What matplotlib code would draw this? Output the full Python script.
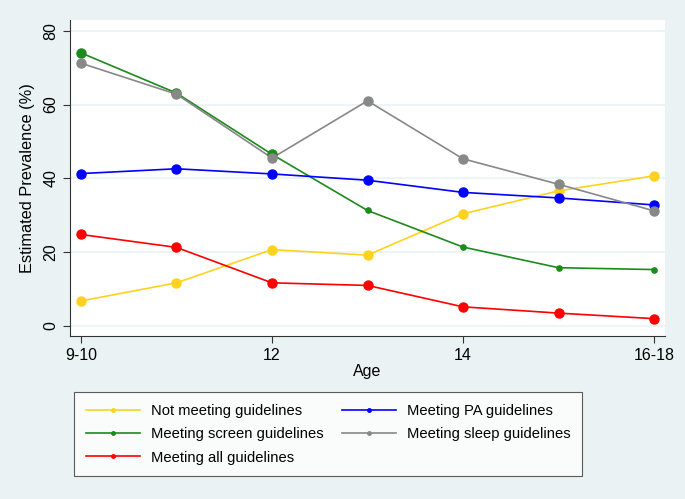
import numpy as np
import matplotlib
matplotlib.use("Agg")
import matplotlib.pyplot as plt

# data
ages = ["9-10", "11", "12", "13", "14", "15", "16-18"]
tick_labels = ["9-10", "12", "14", "16-18"]
tick_idx = [0, 2, 4, 6]

not_meeting = [6.8, 11.7, 20.7, 19.2, 30.4, 36.6, 40.7]
meeting_screen = [74.0, 63.1, 46.5, 31.3, 21.4, 15.8, 15.3]
meeting_all = [24.8, 21.3, 11.7, 11.0, 5.2, 3.5, 2.0]
meeting_pa = [41.3, 42.6, 41.2, 39.5, 36.2, 34.7, 32.8]
meeting_sleep = [71.2, 62.8, 45.5, 61.0, 45.3, 38.4, 31.2]

bg = "#eaf2f3"
plt.rcParams["font.family"] = ["Liberation Sans", "DejaVu Sans"]

fig = plt.figure(figsize=(6.85, 4.99), dpi=100, facecolor=bg)
ax = fig.add_axes([70 / 685, 1 - 336 / 499, 595 / 685, 316 / 499])
ax.set_facecolor("white")

x = np.arange(len(ages))
series = [
    ("Not meeting guidelines", not_meeting, "#ffd21e"),
    ("Meeting screen guidelines", meeting_screen, "#1c8a1c"),
    ("Meeting all guidelines", meeting_all, "#ff0000"),
    ("Meeting PA guidelines", meeting_pa, "#0000ff"),
    ("Meeting sleep guidelines", meeting_sleep, "#888888"),
]

handles = []
for name, vals, col in series:
    ax.plot(x, vals, color=col, lw=1.2, zorder=3)
    if name == "Meeting screen guidelines":
        # stata drew this one with small markers after age 12
        ax.plot(x[:3], vals[:3], "o", color=col, ms=6.5, zorder=4)
        ax.plot(x[3:], vals[3:], "o", color=col, ms=3.8, zorder=4)
    else:
        ax.plot(x, vals, "o", color=col, ms=6.5, zorder=4)
    h, = ax.plot([], [], color=col, lw=1.2, marker="o", ms=2.5, label=name)
    handles.append(h)

ax.set_xlim(-0.115, 6.115)
ax.set_ylim(-2.7, 82.9)
ax.set_yticks([0, 20, 40, 60, 80])
ax.set_xticks(tick_idx)
ax.set_xticklabels(tick_labels)
ax.grid(axis="y", color=bg, lw=1.2, zorder=0)
ax.set_axisbelow(True)

for s in ["top", "right"]:
    ax.spines[s].set_visible(False)
for s in ["left", "bottom"]:
    ax.spines[s].set_color("#333333")
    ax.spines[s].set_linewidth(0.8)

ax.tick_params(axis="both", labelsize=11.5, direction="out", length=5, color="#333333")
for lab in ax.get_yticklabels():
    lab.set_rotation(90)
    lab.set_va("center")

ax.set_xlabel("Age", fontsize=11.5, labelpad=1)
ax.set_ylabel("Estimated Prevalence (%)", fontsize=11.8, labelpad=6)

leg = fig.legend(handles=handles, ncol=2, loc="upper left",
                 bbox_to_anchor=(74 / 685, 1 - 472 / 499, 508 / 685, 80 / 499),
                 mode="expand", fontsize=10.6, frameon=True, fancybox=False,
                 edgecolor="#333333", handlelength=3.7, handletextpad=0.7,
                 columnspacing=2.0, labelspacing=0.64, borderpad=0.8,
                 borderaxespad=0)
leg.get_frame().set_linewidth(0.8)

fig.savefig("out.png", dpi=100, facecolor=bg)
